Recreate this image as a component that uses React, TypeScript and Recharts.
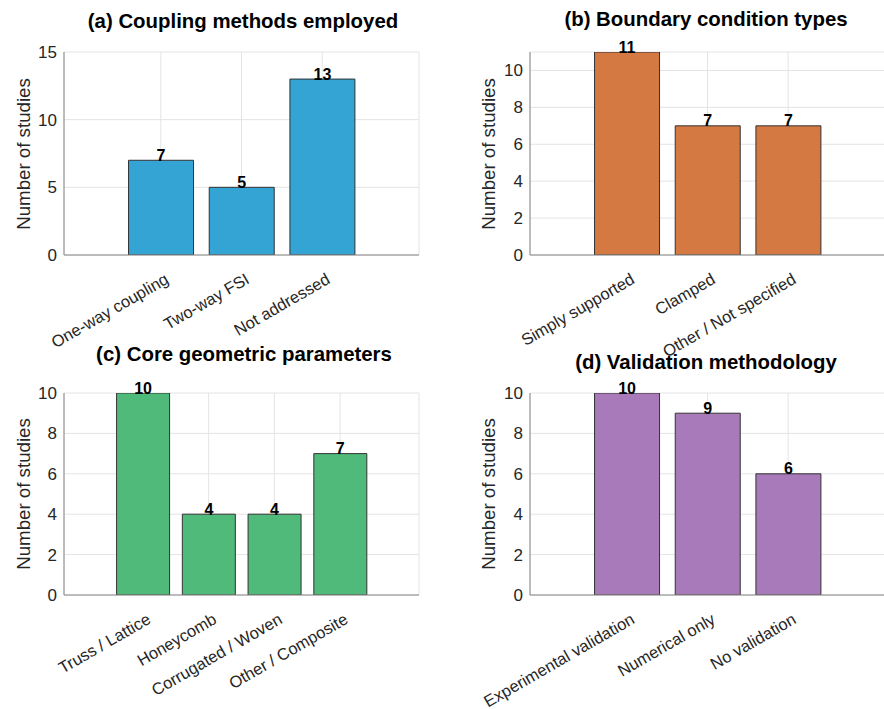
import React from 'react';
import { BarChart, Bar, XAxis, YAxis, CartesianGrid, LabelList } from 'recharts';

// ---- Data ----
const couplingCategories = ['One-way coupling', 'Two-way FSI', 'Not addressed'];
const couplingCounts = [7, 5, 13];
const couplingYTicks = [0, 5, 10, 15];

const boundaryCategories = ['Simply supported', 'Clamped', 'Other / Not specified'];
const boundaryCounts = [11, 7, 7];
const boundaryYTicks = [0, 2, 4, 6, 8, 10];

const coreCategories = ['Truss / Lattice', 'Honeycomb', 'Corrugated / Woven', 'Other / Composite'];
const coreCounts = [10, 4, 4, 7];
const coreYTicks = [0, 2, 4, 6, 8, 10];

const validationCategories = ['Experimental validation', 'Numerical only', 'No validation'];
const validationCounts = [10, 9, 6];
const validationYTicks = [0, 2, 4, 6, 8, 10];

const titles = [
  '(a) Coupling methods employed',
  '(b) Boundary condition types',
  '(c) Core geometric parameters',
  '(d) Validation methodology',
];
const yLabel = 'Number of studies';

const FONT = '"Liberation Sans", Arial, Helvetica, sans-serif';
const AXIS_COLOR = '#868686';
const GRID_COLOR = '#e4e4e4';
const TEXT_COLOR = '#262626';

type PanelProps = {
  categories: string[];
  counts: number[];
  yTicks: number[];
  yMax: number;
  color: string;
  width: number;
  height: number;
  margin: { top: number; right: number; left: number; bottom: number };
  left: number;
  top: number;
};

const makeXTick = (categories: string[]) => (props: any) => {
  const { x, y, payload } = props;
  const label = categories[Math.round(payload.value) - 1] ?? '';
  return (
    <g transform={`translate(${x + 9},${y + 27.5}) rotate(-30)`}>
      <text textAnchor="end" fontSize={16.5} fill={TEXT_COLOR} fontFamily={FONT}>
        {label}
      </text>
    </g>
  );
};

const renderValueLabel = (props: any) => {
  const { x, y, width, value } = props;
  return (
    <text
      x={Number(x) + Number(width) / 2}
      y={Number(y) + 0.5}
      textAnchor="middle"
      fontSize={16}
      fontWeight="bold"
      fill="#000"
      fontFamily={FONT}
    >
      {value}
    </text>
  );
};

function Panel(p: PanelProps) {
  const data = p.categories.map((c, i) => ({ pos: i + 1, name: c, value: p.counts[i] }));
  const xTicks = p.categories.map((_, i) => i + 1);
  const xDomain: [number, number] = [-0.2, p.categories.length + 1.2];
  const yDomain: [number, number] = [0, p.yMax];
  return (
    <div style={{ position: 'absolute', left: p.left, top: p.top }}>
      <BarChart
        width={p.width}
        height={p.height}
        data={data}
        margin={p.margin}
        barCategoryGap="10%"
        style={{ overflow: 'visible' }}
      >
        <CartesianGrid stroke={GRID_COLOR} strokeWidth={1} />
        <XAxis
          dataKey="pos"
          type="number"
          domain={xDomain}
          ticks={xTicks}
          allowDataOverflow
          interval={0}
          height={60}
          tickSize={0}
          tickMargin={0}
          tickLine={false}
          stroke={AXIS_COLOR}
          tick={makeXTick(p.categories)}
        />
        <XAxis
          xAxisId="top"
          orientation="top"
          type="number"
          domain={xDomain}
          allowDataOverflow
          height={0}
          tick={false}
          tickLine={false}
          stroke={AXIS_COLOR}
        />
        <YAxis
          type="number"
          domain={yDomain}
          ticks={p.yTicks}
          allowDataOverflow
          interval={0}
          width={56}
          tickSize={0}
          tickMargin={7}
          tickLine={false}
          stroke={AXIS_COLOR}
          tick={{ fill: TEXT_COLOR, fontSize: 17, fontFamily: FONT }}
        />
        <YAxis
          yAxisId="right"
          orientation="right"
          type="number"
          domain={yDomain}
          allowDataOverflow
          width={0}
          tick={false}
          tickLine={false}
          stroke={AXIS_COLOR}
        />
        <Bar dataKey="value" fill={p.color} stroke="#333333" strokeWidth={1} isAnimationActive={false}>
          <LabelList dataKey="value" content={renderValueLabel} />
        </Bar>
      </BarChart>
    </div>
  );
}

export default function App() {
  const titlePos = [
    { x: 243, y: 27.5 },
    { x: 706, y: 25.7 },
    { x: 244, y: 360.7 },
    { x: 706, y: 369.3 },
  ];
  const yLabelPos = [
    { x: 30, y: 154 },
    { x: 495, y: 154 },
    { x: 30, y: 494 },
    { x: 495, y: 494 },
  ];
  return (
    <div
      style={{
        position: 'absolute',
        left: 0,
        top: 0,
        width: 884,
        height: 709,
        overflow: 'hidden',
        background: '#fff',
        fontFamily: FONT,
      }}
    >
      <Panel
        categories={couplingCategories}
        counts={couplingCounts}
        yTicks={couplingYTicks}
        yMax={15}
        color="#33A4D3"
        left={0}
        top={0}
        width={442}
        height={372}
        margin={{ top: 52, right: 23, left: 8, bottom: 57 }}
      />
      <Panel
        categories={boundaryCategories}
        counts={boundaryCounts}
        yTicks={boundaryYTicks}
        yMax={11}
        color="#D57943"
        left={442}
        top={0}
        width={446}
        height={372}
        margin={{ top: 52, right: 3, left: 32, bottom: 57 }}
      />
      <Panel
        categories={coreCategories}
        counts={coreCounts}
        yTicks={coreYTicks}
        yMax={10}
        color="#50BA7A"
        left={0}
        top={354}
        width={442}
        height={355}
        margin={{ top: 39, right: 23, left: 8, bottom: 54 }}
      />
      <Panel
        categories={validationCategories}
        counts={validationCounts}
        yTicks={validationYTicks}
        yMax={10}
        color="#A97AB9"
        left={442}
        top={354}
        width={446}
        height={355}
        margin={{ top: 39, right: 3, left: 32, bottom: 54 }}
      />
      <svg
        width={884}
        height={709}
        style={{ position: 'absolute', left: 0, top: 0, pointerEvents: 'none' }}
      >
        {titles.map((t, i) => (
          <text
            key={t}
            x={titlePos[i].x}
            y={titlePos[i].y}
            textAnchor="middle"
            fontSize={20.4}
            fontWeight="bold"
            fill="#000"
            fontFamily={FONT}
          >
            {t}
          </text>
        ))}
        {yLabelPos.map((p, i) => (
          <text
            key={i}
            x={p.x}
            y={p.y}
            transform={`rotate(-90, ${p.x}, ${p.y})`}
            textAnchor="middle"
            fontSize={18.7}
            fill={TEXT_COLOR}
            fontFamily={FONT}
          >
            {yLabel}
          </text>
        ))}
      </svg>
    </div>
  );
}
